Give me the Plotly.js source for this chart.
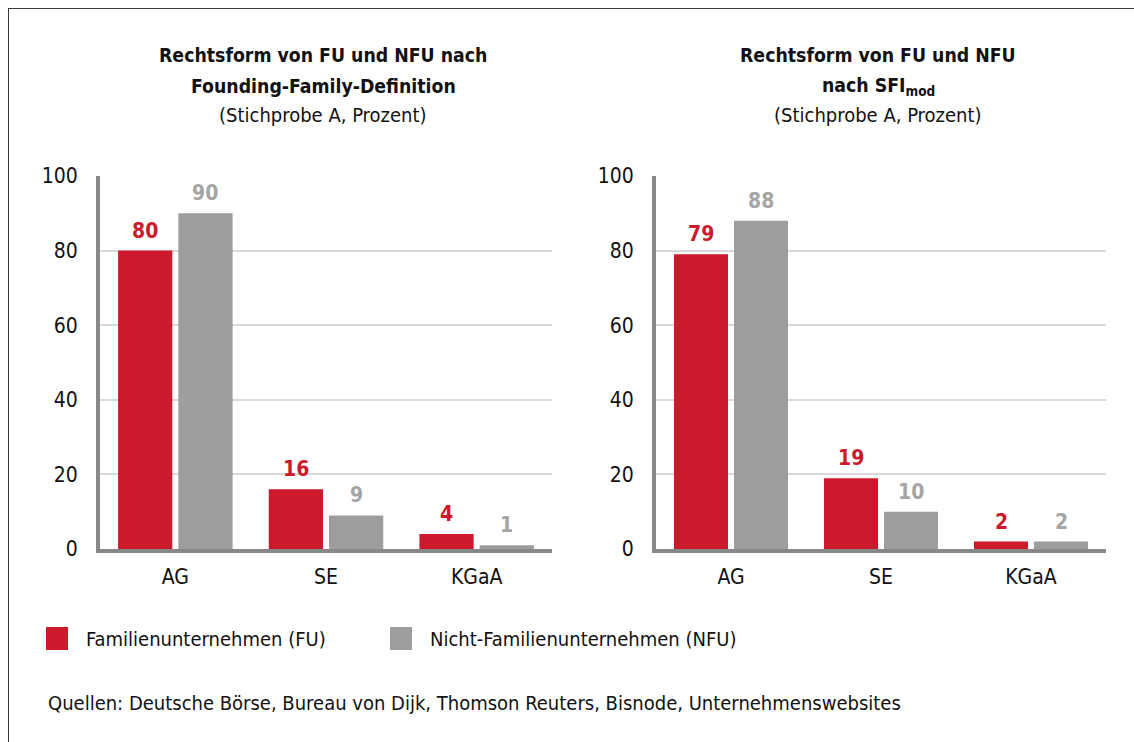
<!DOCTYPE html>
<html>
<head>
<meta charset="utf-8">
<script src="https://cdn.plot.ly/plotly-3.0.1.min.js"></script>
<style>
  html, body { margin: 0; padding: 0; background: #fff; overflow: hidden; }
  #wrap { position: relative; width: 1134px; height: 742px; }
  #chart { width: 1134px; height: 742px; }
  #frame { position: absolute; left: 8px; top: 8px; width: 1200px; height: 800px;
           border-left: 1.5px solid #3a3a3a; border-top: 1.5px solid #3a3a3a; pointer-events: none; }
</style>
</head>
<body>
<div id="wrap"><div id="chart"></div><div id="frame"></div></div>
<script>
// ---- data ----
const categories = ['AG', 'SE', 'KGaA'];
const seriesNames = ['Familienunternehmen (FU)', 'Nicht-Familienunternehmen (NFU)'];
const fuFounding = [80, 16, 4];
const nfuFounding = [90, 9, 1];
const fuSFI = [79, 19, 2];
const nfuSFI = [88, 10, 2];
const yTicks = [0, 20, 40, 60, 80, 100];
const titleLeft = ['<b>Rechtsform von FU und NFU nach</b>', '<b>Founding-Family-Definition</b>', '(Stichprobe A, Prozent)'];
const titleRight = ['<b>Rechtsform von FU und NFU</b>', '<b>nach SFI<sub>mod</sub></b>', '(Stichprobe A, Prozent)'];
const sourceText = 'Quellen: Deutsche Börse, Bureau von Dijk, Thomson Reuters, Bisnode, Unternehmenswebsites';

// ---- style ----
const W = 1134, H = 742;
const RED = '#cc1a2c', GRAY = '#9d9d9c', GRAY_TXT = '#a5a5a5';
const FONT = '"Liberation Sans Narrow", "DejaVu Sans Condensed", "Roboto Condensed", "Open Sans", sans-serif';
const px = v => v / W, py = v => 1 - v / H;

const panels = [
  { fu: fuFounding, nfu: nfuFounding, xa: 'x', ya: 'y', title: titleLeft },
  { fu: fuSFI, nfu: nfuSFI, xa: 'x2', ya: 'y2', title: titleRight }
];

const traces = [];
panels.forEach((p, i) => {
  traces.push({ type: 'bar', x: categories, y: p.fu, name: seriesNames[0], marker: { color: RED },
    xaxis: p.xa, yaxis: p.ya, showlegend: false, hoverinfo: 'skip' });
  traces.push({ type: 'bar', x: categories, y: p.nfu, name: seriesNames[1], marker: { color: GRAY },
    xaxis: p.xa, yaxis: p.ya, showlegend: false, hoverinfo: 'skip' });
});

const annotations = [];
panels.forEach(p => {
  categories.forEach((c, j) => {
    annotations.push({ xref: p.xa, yref: p.ya, x: c, y: p.fu[j], text: '<b>' + p.fu[j] + '</b>',
      showarrow: false, xshift: -30, yshift: 6, yanchor: 'bottom', font: { family: FONT, size: 21, color: RED } });
    annotations.push({ xref: p.xa, yref: p.ya, x: c, y: p.nfu[j], text: '<b>' + p.nfu[j] + '</b>',
      showarrow: false, xshift: 30, yshift: 6, yanchor: 'bottom', font: { family: FONT, size: 21, color: GRAY_TXT } });
  });
});

const titleCenters = [323, 878];
const titleYs = [56, 86, 115];
const titleSizes = [19.3, 19.3, 20];
panels.forEach((p, i) => {
  p.title.forEach((t, k) => {
    annotations.push({ xref: 'paper', yref: 'paper', x: px(titleCenters[i]), y: py(titleYs[k]), text: t,
      showarrow: false, xanchor: 'center', yanchor: 'middle', font: { family: FONT, size: titleSizes[k], color: '#111' } });
  });
});

// legend (custom swatches)
const legendX = [46, 390];
const shapes = [];
seriesNames.forEach((n, i) => {
  shapes.push({ type: 'rect', xref: 'paper', yref: 'paper', x0: px(legendX[i]), x1: px(legendX[i] + 22),
    y0: py(650), y1: py(627), fillcolor: i === 0 ? RED : GRAY, line: { width: 0 } });
  annotations.push({ xref: 'paper', yref: 'paper', x: px(legendX[i] + 38), y: py(639), text: n,
    showarrow: false, xanchor: 'left', yanchor: 'middle', font: { family: FONT, size: 20, color: '#111' } });
});
annotations.push({ xref: 'paper', yref: 'paper', x: px(46), y: py(703), text: sourceText,
  showarrow: false, xanchor: 'left', yanchor: 'middle', font: { family: FONT, size: 20, color: '#111' } });

const yAxisBase = {
  range: [0, 100], tickvals: yTicks, showgrid: true, gridcolor: '#d9d9d9', gridwidth: 2,
  showline: true, linecolor: '#888888', linewidth: 4, zeroline: false, ticks: '',
  ticklabelstandoff: 14, tickfont: { family: FONT, size: 21, color: '#111' }, fixedrange: true,
  domain: [py(549), py(176)]
};
const xAxisBase = {
  showline: true, linecolor: '#888888', linewidth: 4, ticks: '', showgrid: false, zeroline: false,
  tickfont: { family: FONT, size: 21, color: '#111' }, fixedrange: true, ticklabelstandoff: 6
};

const layout = {
  width: W, height: H, margin: { l: 0, r: 0, t: 0, b: 0 },
  paper_bgcolor: '#fff', plot_bgcolor: '#fff',
  barmode: 'group', bargap: 0.2, bargroupgap: 0.1,
  font: { family: FONT },
  xaxis: Object.assign({}, xAxisBase, { domain: [px(100), px(552)], anchor: 'y' }),
  yaxis: Object.assign({}, yAxisBase, { anchor: 'x' }),
  xaxis2: Object.assign({}, xAxisBase, { domain: [px(656), px(1106)], anchor: 'y2' }),
  yaxis2: Object.assign({}, yAxisBase, { anchor: 'x2' }),
  annotations: annotations, shapes: shapes, showlegend: false
};

Plotly.newPlot('chart', traces, layout, { staticPlot: true, displayModeBar: false });
</script>
</body>
</html>
